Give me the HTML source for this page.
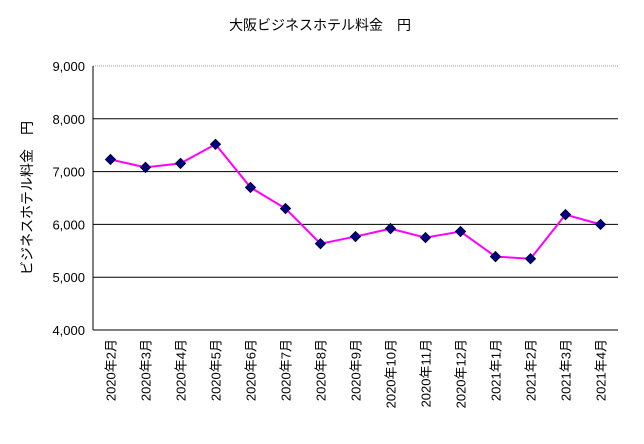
<!DOCTYPE html>
<html><head><meta charset="utf-8"><style>
body{margin:0;background:#fff;}
svg text{font-family:"Liberation Sans","Noto Sans CJK JP",sans-serif;fill:#000;}
</style></head><body>
<svg id="chart" width="644" height="439" viewBox="0 0 644 439" xmlns="http://www.w3.org/2000/svg">
<text x="320" y="30" font-size="14" text-anchor="middle">大阪ビジネスホテル料金　円</text>
<text transform="translate(32,198) rotate(-90)" font-size="14" text-anchor="middle">ビジネスホテル料金　円</text>
<g id="grid"></g><g id="yticks"></g><g id="xticks"></g><g id="series"></g>
</svg>
<script>
(function(){
const categories=["2020年2月","2020年3月","2020年4月","2020年5月","2020年6月","2020年7月","2020年8月","2020年9月","2020年10月","2020年11月","2020年12月","2021年1月","2021年2月","2021年3月","2021年4月"];
const values=[7230,7080,7155,7517,6700,6300,5635,5770,5920,5750,5865,5390,5350,6185,6000];
const yTicks=[4000,5000,6000,7000,8000,9000];
const yTickLabels=["4,000","5,000","6,000","7,000","8,000","9,000"];
const L=93,R=618,T=66,B=330,yMin=4000,yMax=9000;
const NS="http://www.w3.org/2000/svg";
function y(v){return B-(v-yMin)/(yMax-yMin)*(B-T);}
function x(i){return L+(i+0.5)*(R-L)/categories.length;}
function mk(tag,attrs,parent){const e=document.createElementNS(NS,tag);for(const k in attrs)e.setAttribute(k,attrs[k]);parent.appendChild(e);return e;}
const grid=document.getElementById('grid'),yt=document.getElementById('yticks'),xt=document.getElementById('xticks'),sr=document.getElementById('series');
yTicks.forEach((v,i)=>{
  if(v!==yMin&&v!==yMax){const g=mk('line',{x1:L,x2:R,y1:y(v),y2:y(v),stroke:'#000','stroke-width':1},grid);
  
  }
  const t=mk('text',{x:L-8,y:y(v)+5,'font-size':13,'text-anchor':'end'},yt);
  t.textContent=yTickLabels[i];
  
  
});
const topBorder=mk('line',{x1:L,x2:R,y1:T,y2:T,stroke:'#999','stroke-width':1,'stroke-dasharray':'1,1'},grid);


const ax=mk('line',{x1:L,x2:L,y1:T,y2:B,stroke:'#000','stroke-width':1},grid);


const bx=mk('line',{x1:L,x2:R,y1:B,y2:B,stroke:'#000','stroke-width':1},grid);


categories.forEach((c,i)=>{
  const t=mk('text',{transform:`translate(${x(i)+5},339) rotate(-90)`,'font-size':13,'text-anchor':'end'},xt);
  t.textContent=c;
  
  
});
const pl=mk('polyline',{points:values.map((v,i)=>x(i)+','+y(v)).join(' '),fill:'none',stroke:'#ff00ff','stroke-width':2},sr);


values.forEach((v,i)=>{
  const cx=x(i),cy=y(v);
  const p=mk('polygon',{points:`${cx},${cy-5} ${cx+5},${cy} ${cx},${cy+5} ${cx-5},${cy}`,fill:'#000080',stroke:'#000040','stroke-width':1},sr);
  
  
});
})();
</script>
</body></html>
